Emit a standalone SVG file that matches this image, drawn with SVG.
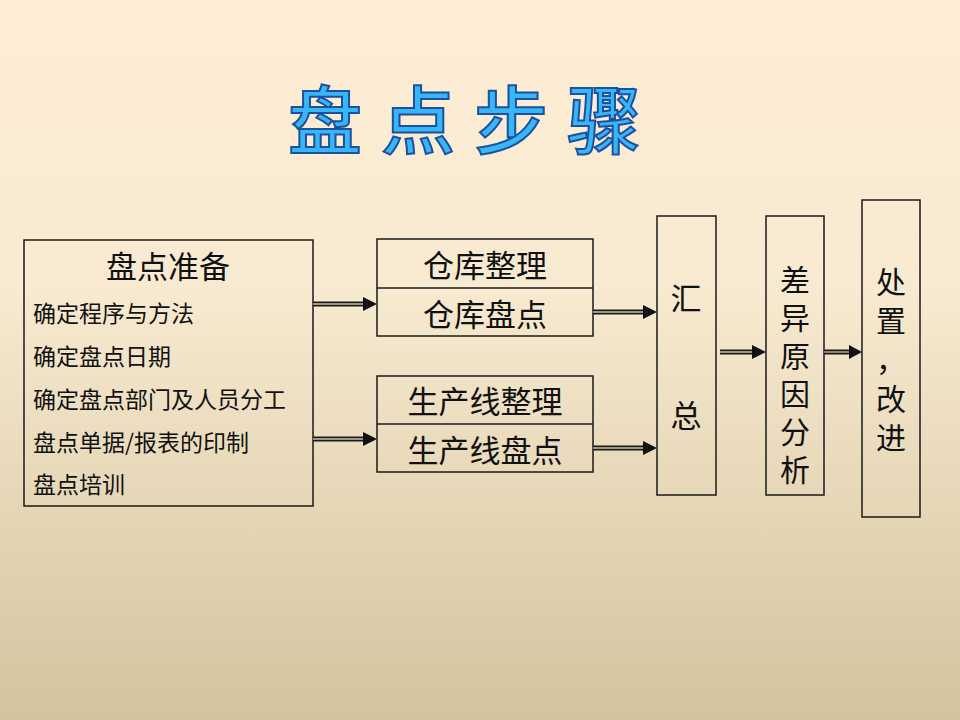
<svg xmlns="http://www.w3.org/2000/svg" width="960" height="720" viewBox="0 0 960 720">
<defs>
<linearGradient id="bg" x1="0" y1="0" x2="0" y2="1">
<stop offset="0" stop-color="#FDEED5"/>
<stop offset="0.4" stop-color="#F8EAD0"/>
<stop offset="1" stop-color="#D3C39E"/>
</linearGradient>
<style>
.box{fill:none;stroke:#1a1a1a;stroke-width:1.5}
.t{font-family:"Noto Sans CJK SC","Liberation Sans",sans-serif;fill:#111;dominant-baseline:central}
.c{text-anchor:middle}
.big{font-size:31px}
.v{font-size:30px}
.sm{font-size:23px}
.outer{stroke:#1a1a1a;stroke-width:5;fill:none}
.inner{stroke:#c9c0ad;stroke-width:1.3;fill:none}
.head{fill:#111}
.title{font-family:"Noto Sans CJK SC","Liberation Sans",sans-serif;font-size:74px;font-weight:500;fill:#36B8F8;stroke:#1F4FA0;stroke-width:2;letter-spacing:19px;dominant-baseline:central}
</style>
</defs>
<rect x="0" y="0" width="960" height="720" fill="url(#bg)"/>
<text class="title" x="288" y="115">盘点步骤</text>

<g id="prep">
<rect class="box" x="24" y="240" width="289" height="266"/>
<text class="t c big" x="168" y="264">盘点准备</text>
<text class="t sm" x="33" y="312">确定程序与方法</text>
<text class="t sm" x="33" y="355">确定盘点日期</text>
<text class="t sm" x="33" y="398">确定盘点部门及人员分工</text>
<text class="t sm" x="33" y="441">盘点单据/报表的印制</text>
<text class="t sm" x="33" y="483">盘点培训</text>
</g>

<g id="warehouse">
<rect class="box" x="377" y="239" width="216" height="97"/>
<line class="box" x1="377" y1="288" x2="593" y2="288"/>
<text class="t c big" x="485" y="263">仓库整理</text>
<text class="t c big" x="485" y="312">仓库盘点</text>
</g>

<g id="line">
<rect class="box" x="377" y="376" width="216" height="96"/>
<line class="box" x1="377" y1="424" x2="593" y2="424"/>
<text class="t c big" x="485" y="399">生产线整理</text>
<text class="t c big" x="485" y="448">生产线盘点</text>
</g>

<g id="summary">
<rect class="box" x="657" y="216" width="59" height="279"/>
<text class="t c big" x="686" y="296">汇</text>
<text class="t c big" x="686" y="413">总</text>
</g>

<g id="analysis">
<rect class="box" x="766" y="216" width="58" height="279"/>
<text class="t c v" x="795" y="278">差</text>
<text class="t c v" x="795" y="316">异</text>
<text class="t c v" x="795" y="354">原</text>
<text class="t c v" x="795" y="392">因</text>
<text class="t c v" x="795" y="430">分</text>
<text class="t c v" x="795" y="468">析</text>
</g>

<g id="handle">
<rect class="box" x="862" y="200" width="58" height="317"/>
<text class="t c v" x="891" y="280">处</text>
<text class="t c v" x="891" y="319">置</text>
<text class="t c v" x="891" y="358">，</text>
<text class="t c v" x="891" y="397">改</text>
<text class="t c v" x="891" y="436">进</text>
</g>

<g id="connectors">
<path class="outer" d="M313,304 H365"/><path class="inner" d="M313,304 H365"/><polygon class="head" points="363,297 377,304 363,311"/>
<path class="outer" d="M313,439 H365"/><path class="inner" d="M313,439 H365"/><polygon class="head" points="363,432 377,439 363,446"/>
<path class="outer" d="M593,312 H645"/><path class="inner" d="M593,312 H645"/><polygon class="head" points="643,305 657,312 643,319"/>
<path class="outer" d="M593,448 H645"/><path class="inner" d="M593,448 H645"/><polygon class="head" points="643,441 657,448 643,455"/>
<path class="outer" d="M720,352 H754"/><path class="inner" d="M720,352 H754"/><polygon class="head" points="752,345 766,352 752,359"/>
<path class="outer" d="M824,352 H851"/><path class="inner" d="M824,352 H851"/><polygon class="head" points="849,345 862,352 849,359"/>
</g>
</svg>
